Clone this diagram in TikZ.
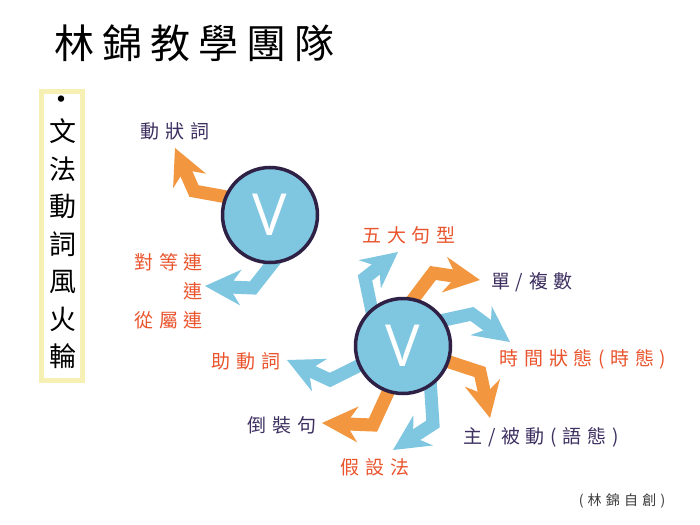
\documentclass[tikz,border=0pt]{standalone}
\usepackage{fontspec}
\usepackage{tikz}
\usetikzlibrary{arrows.meta, backgrounds}
\newfontfamily\cjk[LetterSpace=30]{Noto Sans CJK TC}
\newfontfamily\cjkplain{Noto Sans CJK TC}
\newfontfamily\cjktitle[LetterSpace=20]{Noto Sans CJK TC}
\newfontfamily\vfont{Open Sans}

\begin{document}
\begin{tikzpicture}[x=1pt,y=-1pt,
  vcircle/.style={circle, draw=vline, fill=vblue, line width=3.5pt, minimum size=95pt,
    inner sep=0pt, text=white, font=\vfont\fontsize{58}{58}\selectfont},
  ray/.style={line width=13pt, shorten <=-8pt,
    -{Stealth[length=36pt, width=36pt, inset=12pt, line width=0pt]}},
  blueray/.style={ray, draw=vblue},
  orangeray/.style={ray, draw=vorange},
  lbl/.style={font=\cjk\fontsize{19}{19}\selectfont, inner sep=0pt},
  redlbl/.style={lbl, text=lblred},
  purplbl/.style={lbl, text=lblpurple}]
\definecolor{vblue}{RGB}{127,198,225}
\definecolor{vline}{RGB}{46,33,69}
\definecolor{vorange}{RGB}{242,150,63}
\definecolor{lblred}{RGB}{233,84,44}
\definecolor{lblpurple}{RGB}{61,48,96}
\definecolor{boxyellow}{RGB}{246,240,180}
\definecolor{credgray}{RGB}{60,60,60}

\useasboundingbox (0,0) rectangle (700,524);

% Title
\node[font=\cjktitle\fontsize{40}{40}\selectfont] (title) at (194,43) {林錦教學團隊};

% Side bar
\draw[draw=boxyellow, line width=5pt] (41.5,91.5) rectangle (82.5,380.5);
\node[font=\cjkplain\fontsize{30}{30}\selectfont] (bullet) at (61,103) {•};
\node[font=\cjkplain\fontsize{27}{37.5}\selectfont, align=center] (sidetext) at (63,244)
  {文\\法\\動\\詞\\風\\火\\輪};

% Circles
\node[vcircle] (vtop) at (270,215) {V};
\node[vcircle] (vbot) at (403,346) {V};

% Bends and tips
\coordinate (advbend) at (194,191);  \coordinate (advtip) at (175,148);
\coordinate (conjbend) at (253,288); \coordinate (conjtip) at (205,286);
\coordinate (fivebend) at (365,278); \coordinate (fivetip) at (398,252);
\coordinate (numbend) at (433,273);  \coordinate (numtip) at (480,280);
\coordinate (tensebend) at (472,314); \coordinate (tensetip) at (510,342);
\coordinate (voicebend) at (480,372); \coordinate (voicetip) at (490,418);
\coordinate (auxbend) at (330,380);  \coordinate (auxtip) at (287,360);
\coordinate (invbend) at (373,425);  \coordinate (invtip) at (322,423);
\coordinate (subjbend) at (433,424); \coordinate (subjtip) at (393,450);

% Arrows
\begin{scope}[on background layer]
\draw[orangeray] (vtop.158) -- (advbend) -- (advtip);
\draw[blueray] (vtop.272) -- (conjbend) -- (conjtip);
\draw[blueray] (vbot.130) -- (fivebend) -- (fivetip);
\draw[orangeray] (vbot.77) -- (numbend) -- (numtip);
\draw[blueray] (vbot.32) -- (tensebend) -- (tensetip);
\draw[orangeray] (vbot.-19) -- (voicebend) -- (voicetip);
\draw[blueray] (vbot.204) -- (auxbend) -- (auxtip);
\draw[orangeray] (vbot.252) -- (invbend) -- (invtip);
\draw[blueray] (vbot.304) -- (subjbend) -- (subjtip);
\end{scope}

% Labels
\node[purplbl] (adv) at (175,131) {動狀詞};
\node[redlbl, anchor=east] (coord) at (203,262) {對等連};
\node[redlbl, anchor=east] (conj) at (203,291) {連};
\node[redlbl, anchor=east] (subord) at (203,320) {從屬連};
\node[redlbl] (five) at (409,235) {五大句型};
\node[purplbl] (num) at (532,282) {單/複數};
\node[redlbl] (tense) at (583,359) {時間狀態(時態)};
\node[purplbl] (voice) at (541,437) {主/被動(語態)};
\node[redlbl] (aux) at (246,361) {助動詞};
\node[purplbl] (inv) at (282,425) {倒裝句};
\node[redlbl] (subj) at (375,467) {假設法};

\node[font=\cjk\fontsize{14}{14}\selectfont, text=credgray] (credit) at (622,501) {(林錦自創)};

\end{tikzpicture}
\end{document}
